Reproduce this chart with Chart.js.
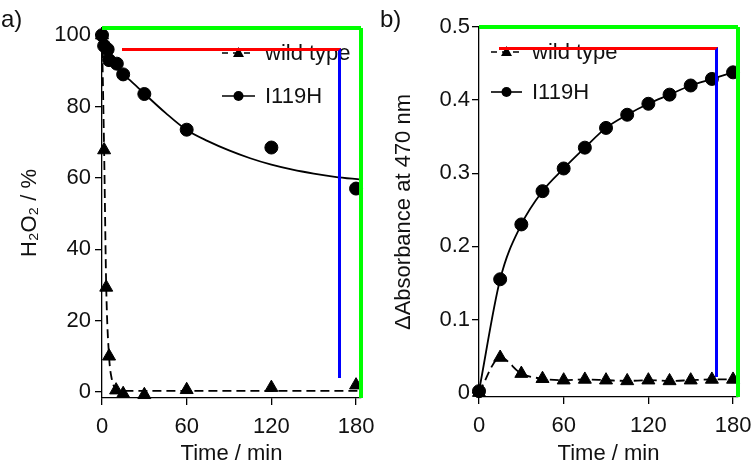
<!DOCTYPE html>
<html>
<head>
<meta charset="utf-8">
<script src="https://cdn.jsdelivr.net/npm/chart.js@4/dist/chart.umd.min.js"></script>
<style>
    html, body { margin: 0; padding: 0; background: #fff; }
    #wrap { position: relative; width: 756px; height: 468px; overflow: hidden; }
    canvas { position: absolute; top: 0; }
    .panel-tag { position: absolute; top: 7px; font: 24px "Liberation Sans", Arial, sans-serif; line-height: 24px; color: #111; }
    .plot-frame { position: absolute; box-sizing: border-box; pointer-events: none; border-top: 3px solid red; border-right: 3px solid blue; z-index: 5; }
</style>
</head>
<body>
<div id="wrap">
    <canvas id="chart-a" width="378" height="468" style="left:0"></canvas>
    <canvas id="chart-b" width="378" height="468" style="left:378px"></canvas>
    <div class="panel-tag" style="left:1px">a)</div>
    <div class="panel-tag" style="left:380px">b)</div>
</div>
<script>
var timeA_I119H = [0, 1.5, 4, 5, 10.5, 15, 30, 60, 120, 180];
var h2o2_I119H  = [100, 97, 96, 93, 92, 89, 83.5, 73.5, 68.5, 57];
var timeA_wild  = [0, 1.5, 3, 5, 10, 15, 30, 60, 120, 180];
var h2o2_wild   = [100, 67.8, 29.3, 10, 0.5, -0.5, -0.8, 0.6, 1.2, 1.9];

var fitTimeA_I119H = [0, 5, 10, 15, 20, 30, 45, 60, 75, 90, 105, 120, 135, 150, 165, 183.5];
var fitA_I119H     = [94.5, 92.5, 90.8, 89, 87.3, 83.6, 78.2, 73.4, 70.3, 67.7, 65.5, 63.7, 62.3, 61.2, 60.3, 59.5];
var fitTimeA_wild  = [0, 1.5, 3, 5, 7, 10, 15, 183.5];
var fitA_wild      = [100, 67.8, 29.3, 10, 3.5, 0.8, 0.3, 0.3];

var timeB        = [0, 15, 30, 45, 60, 75, 90, 105, 120, 135, 150, 165, 180];
var absB_I119H   = [0.002, 0.155, 0.23, 0.2755, 0.3065, 0.335, 0.362, 0.38, 0.395, 0.4075, 0.42, 0.429, 0.438];
var absB_wild    = [0, 0.048, 0.026, 0.019, 0.017, 0.018, 0.017, 0.016, 0.017, 0.016, 0.017, 0.018, 0.018];

var xTicks = [0, 60, 120, 180];
var legendLabels = ['wild type', 'I119H'];

var FONT = '"Liberation Sans", Arial, sans-serif';
var FS = 22;
var INK = '#111';

function pts(xs, ys) {
    return xs.map(function (x, i) { return { x: x, y: ys[i] }; });
}

var innerLegend = {
    id: 'innerLegend',
    afterDraw: function (chart, args, o) {
        var ctx = chart.ctx, a = chart.chartArea;
        ctx.save();
        ctx.fillStyle = 'lime';
        ctx.fillRect(a.left, a.top - 2, a.right - a.left, 4);
        ctx.fillRect(a.right - 2, a.top, 4, a.bottom - a.top);

        (o.rows || []).forEach(function (r, i) {
            var y = o.y + i * o.gap;
            ctx.strokeStyle = '#000';
            ctx.lineWidth = 1.6;
            ctx.setLineDash(r.dash);
            ctx.beginPath();
            ctx.moveTo(o.x, y);
            ctx.lineTo(o.x + o.len, y);
            ctx.stroke();
            ctx.setLineDash([]);
            var cx = o.x + o.len / 2;
            ctx.fillStyle = '#000';
            ctx.beginPath();
            if (r.marker === 'triangle') {
                ctx.moveTo(cx, y - 6);
                ctx.lineTo(cx + 5.5, y + 4);
                ctx.lineTo(cx - 5.5, y + 4);
                ctx.closePath();
            } else {
                ctx.arc(cx, y, 5, 0, Math.PI * 2);
            }
            ctx.fill();
            ctx.fillStyle = INK;
            ctx.font = FS + 'px ' + FONT;
            ctx.textBaseline = 'middle';
            ctx.fillText(r.text, o.textX, y + 1);
        });
        ctx.restore();

        var c = chart.canvas;
        var id = c.id + '-frame';
        var el = document.getElementById(id);
        if (!el) {
            el = document.createElement('div');
            el.id = id;
            el.className = 'plot-frame';
            document.getElementById('wrap').appendChild(el);
        }
        el.style.left = (c.offsetLeft + Math.round(a.left) + 20) + 'px';
        el.style.top = (Math.round(a.top) + 20) + 'px';
        el.style.width = (Math.round(a.right) - Math.round(a.left) - 40) + 'px';
        el.style.height = (Math.round(a.bottom) - Math.round(a.top) - 40) + 'px';
    }
};

function axisX(h, max) {
    return {
        type: 'linear', min: 0, max: max,
        afterFit: function (s) { s.height = h; s.paddingLeft = 0; s.paddingRight = 0; },
        afterBuildTicks: function (s) { s.ticks = xTicks.map(function (v) { return { value: v }; }); },
        grid: { drawOnChartArea: false, drawTicks: true, tickLength: 7, color: '#000', lineWidth: 1.3 },
        border: { display: true, color: '#000', width: 1.3 },
        ticks: { color: INK, font: { family: FONT, size: FS }, padding: 9, maxRotation: 0 },
        title: { display: true, text: 'Time / min', color: INK, font: { family: FONT, size: FS }, padding: { top: 0, bottom: 1 } }
    };
}

function axisY(w, min, max, step, pad, titleText, titlePad) {
    return {
        type: 'linear', min: min, max: max,
        afterFit: function (s) { s.width = w; s.paddingTop = 0; s.paddingBottom = 0; },
        grid: { drawOnChartArea: false, drawTicks: true, tickLength: 7, color: '#000', lineWidth: 1.3 },
        border: { display: true, color: '#000', width: 1.3 },
        ticks: { stepSize: step, includeBounds: false, color: INK, font: { family: FONT, size: FS }, padding: pad },
        title: { display: true, text: titleText, color: INK, font: { family: FONT, size: FS }, padding: { top: titlePad, bottom: 0 } }
    };
}

function markerSet(data, style, r) {
    return {
        data: data, showLine: false, pointStyle: style, pointRadius: r, pointHoverRadius: r,
        backgroundColor: '#000', borderColor: '#000', pointBorderWidth: 1, clip: false
    };
}

function lineSet(data, dash) {
    return {
        data: data, showLine: true, pointRadius: 0, pointHoverRadius: 0,
        borderColor: '#000', borderWidth: 1.8, borderDash: dash,
        cubicInterpolationMode: 'monotone', fill: false, clip: false
    };
}

new Chart(document.getElementById('chart-a').getContext('2d'), {
    type: 'scatter',
    data: {
        datasets: [
            markerSet(pts(timeA_I119H, h2o2_I119H), 'circle', 6.5),
            markerSet(pts(timeA_wild, h2o2_wild), 'triangle', 7.5),
            lineSet(pts(fitTimeA_I119H, fitA_I119H), []),
            lineSet(pts(fitTimeA_wild, fitA_wild), [9, 5])
        ]
    },
    options: {
        responsive: false, animation: false,
        layout: { padding: { left: 0, top: 28, right: 17, bottom: 0 } },
        plugins: {
            legend: { display: false }, tooltip: { enabled: false },
            innerLegend: {
                x: 222, len: 33, y: 53, gap: 43, textX: 265,
                rows: [
                    { text: legendLabels[0], marker: 'triangle', dash: [6, 5] },
                    { text: legendLabels[1], marker: 'circle', dash: [] }
                ]
            }
        },
        scales: {
            x: axisX(70, 183.5),
            y: axisY(102, -1.7, 102, 20, 4, 'H\u2082O\u2082 / %', 17)
        }
    },
    plugins: [innerLegend]
});

new Chart(document.getElementById('chart-b').getContext('2d'), {
    type: 'scatter',
    data: {
        datasets: [
            markerSet(pts(timeB, absB_I119H), 'circle', 6.5),
            markerSet(pts(timeB, absB_wild), 'triangle', 7.5),
            lineSet(pts(timeB, absB_I119H), []),
            lineSet(pts(timeB, absB_wild), [9, 5])
        ]
    },
    options: {
        responsive: false, animation: false,
        layout: { padding: { left: 0, top: 27, right: 18, bottom: 0 } },
        plugins: {
            legend: { display: false }, tooltip: { enabled: false },
            innerLegend: {
                x: 113, len: 31, y: 52, gap: 40, textX: 154,
                rows: [
                    { text: legendLabels[0], marker: 'triangle', dash: [6, 5] },
                    { text: legendLabels[1], marker: 'circle', dash: [] }
                ]
            }
        },
        scales: {
            x: axisX(71, 183.5),
            y: axisY(101, -0.006, 0.5, 0.1, 2, '\u0394Absorbance at 470 nm', 13)
        }
    },
    plugins: [innerLegend]
});
</script>
</body>
</html>
